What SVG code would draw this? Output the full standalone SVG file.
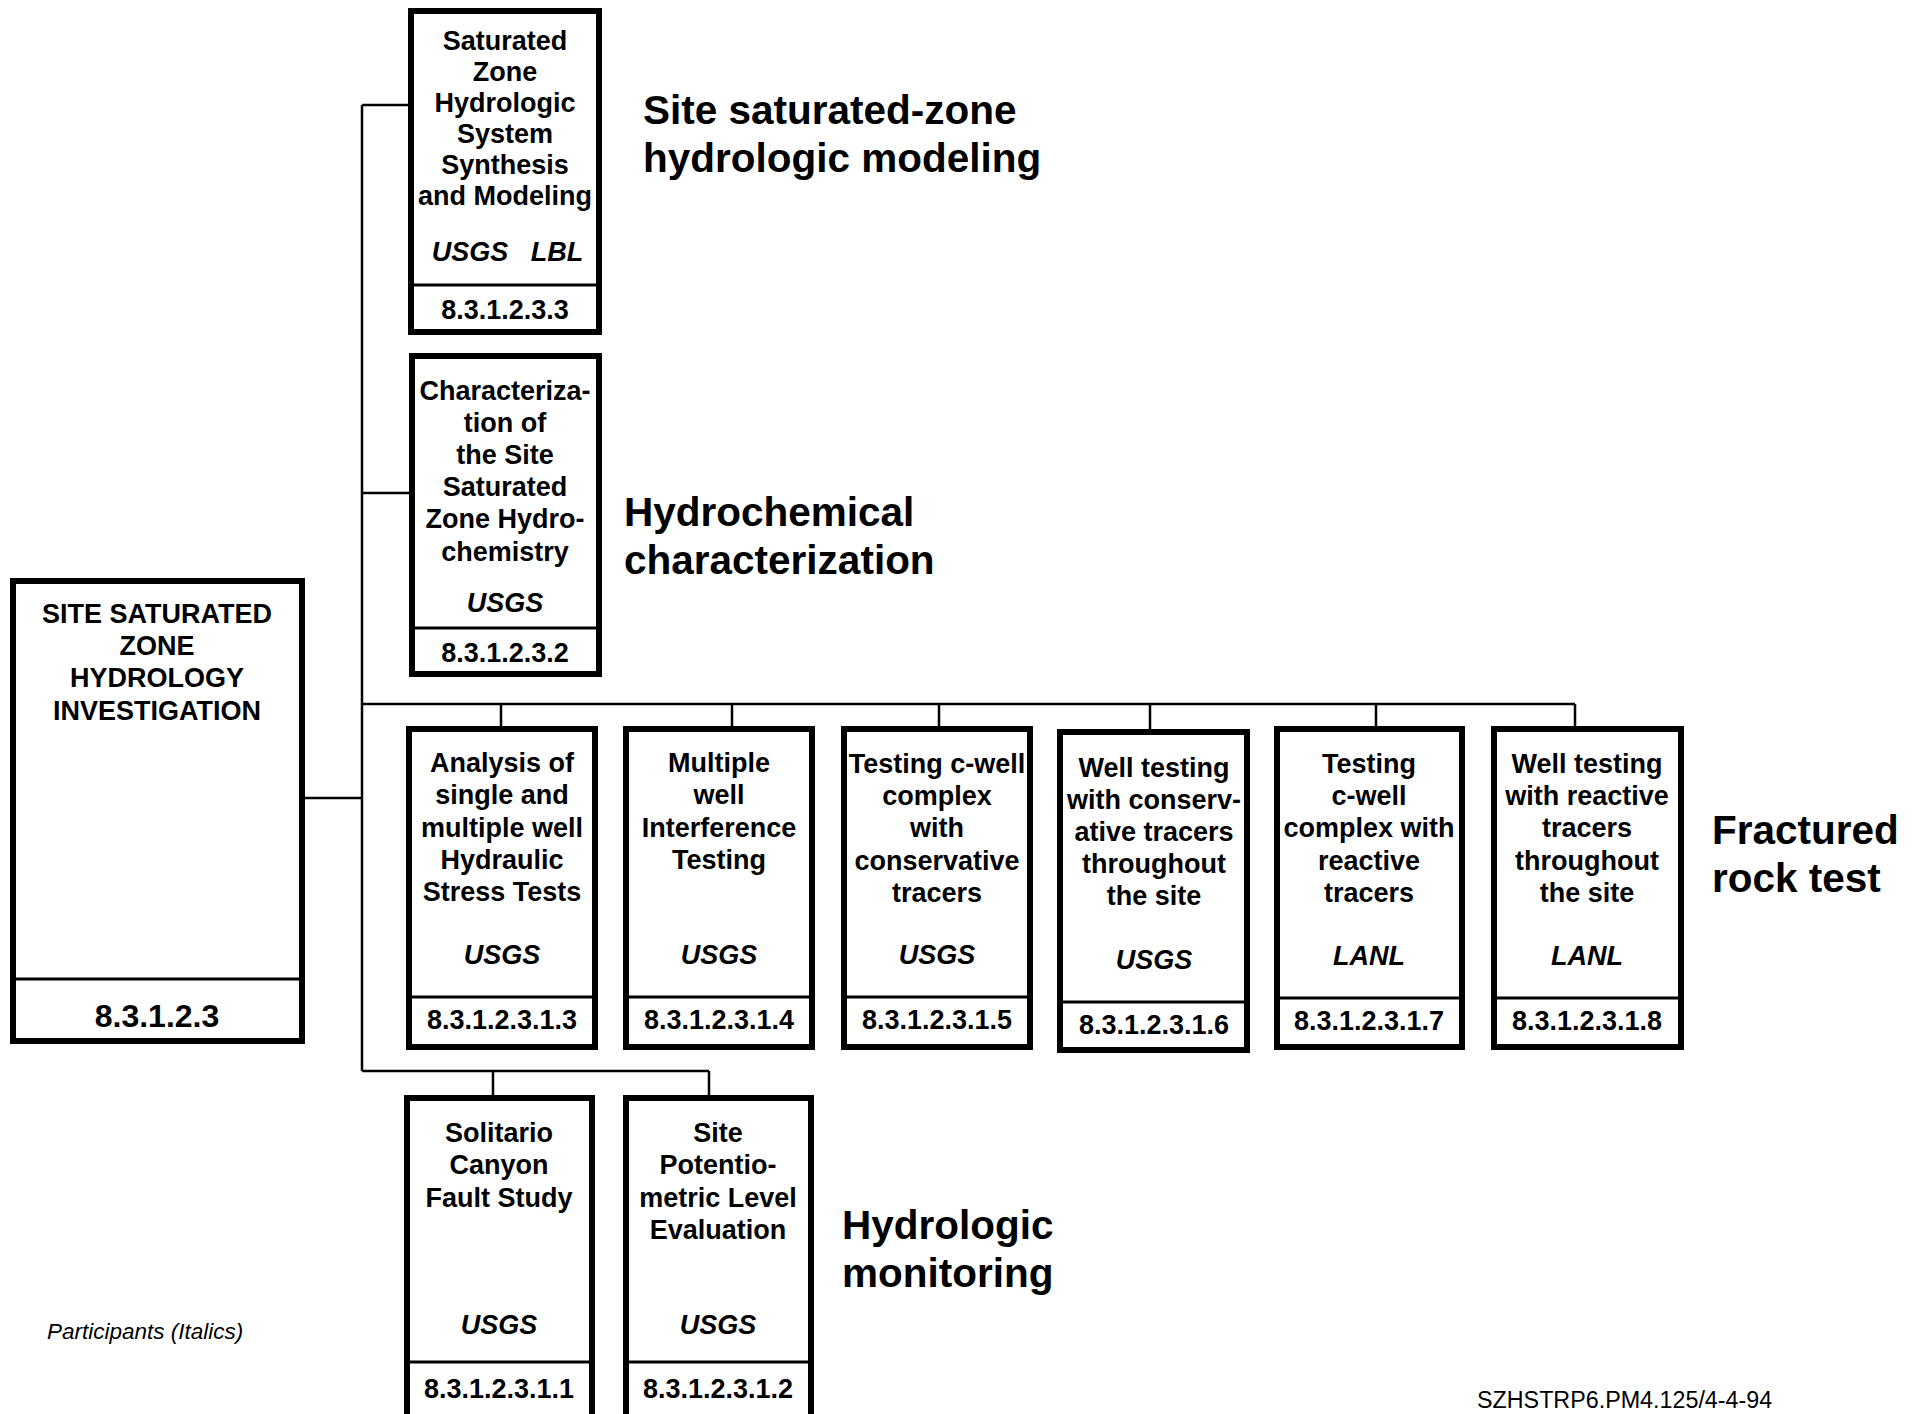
<svg xmlns="http://www.w3.org/2000/svg" width="1919" height="1414" viewBox="0 0 1919 1414">
<style>
.box{fill:#fff;stroke:#000;stroke-width:6}
.dv{stroke:#000;stroke-width:3;fill:none}
.cn{stroke:#000;stroke-width:2.5;fill:none}
text{font-family:"Liberation Sans",Arial,Helvetica,sans-serif;fill:#000}
.t{font-weight:bold;font-size:27px;text-anchor:middle}
.p{font-weight:bold;font-style:italic;font-size:27px;text-anchor:middle}
.n{font-weight:bold;font-size:27px;text-anchor:middle}
.lbl{font-weight:bold;font-size:40.5px}
.sm{font-size:22.5px}
</style>
<rect x="0" y="0" width="1919" height="1414" fill="#fff"/>
<g id="connectors">
<path class="cn" d="M362 105V1071M362 105H409M362 493H409M305 798H362"/>
<path class="cn" d="M362 704H1575M501 704V726M732 704V726M939 704V726M1150 704V729M1376 704V726M1575 704V726"/>
<path class="cn" d="M362 1071H709M493 1071V1095M709 1071V1095"/>
</g>
<g id="n-root">
<rect class="box" x="13" y="581" width="289" height="460"/>
<line class="dv" x1="16" y1="979" x2="299" y2="979"/>
<text class="t" x="157" y="623">SITE SATURATED</text>
<text class="t" x="157" y="655">ZONE</text>
<text class="t" x="157" y="687">HYDROLOGY</text>
<text class="t" x="157" y="720">INVESTIGATION</text>
<text class="n" x="157" y="1027" style="font-size:32px">8.3.1.2.3</text>
</g>
<g id="n-8.3.1.2.3.3">
<rect class="box" x="411" y="11" width="188" height="321"/>
<line class="dv" x1="414" y1="285" x2="596" y2="285"/>
<text class="t" x="505" y="50">Saturated</text>
<text class="t" x="505" y="81">Zone</text>
<text class="t" x="505" y="112">Hydrologic</text>
<text class="t" x="505" y="143">System</text>
<text class="t" x="505" y="174">Synthesis</text>
<text class="t" x="505" y="205">and Modeling</text>
<text class="p" x="470" y="261">USGS</text>
<text class="p" x="557" y="261">LBL</text>
<text class="n" x="505" y="319">8.3.1.2.3.3</text>
</g>
<g id="n-8.3.1.2.3.2">
<rect class="box" x="412" y="356" width="187" height="318"/>
<line class="dv" x1="415" y1="628" x2="596" y2="628"/>
<text class="t" x="505" y="400">Characteriza-</text>
<text class="t" x="505" y="432">tion of</text>
<text class="t" x="505" y="464">the Site</text>
<text class="t" x="505" y="496">Saturated</text>
<text class="t" x="505" y="528">Zone Hydro-</text>
<text class="t" x="505" y="561">chemistry</text>
<text class="p" x="505" y="612">USGS</text>
<text class="n" x="505" y="662">8.3.1.2.3.2</text>
</g>
<g id="n-8.3.1.2.3.1.3">
<rect class="box" x="409" y="729" width="186" height="318"/>
<line class="dv" x1="412" y1="997" x2="592" y2="997"/>
<text class="t" x="502" y="772">Analysis of</text>
<text class="t" x="502" y="804">single and</text>
<text class="t" x="502" y="837">multiple well</text>
<text class="t" x="502" y="869">Hydraulic</text>
<text class="t" x="502" y="901">Stress Tests</text>
<text class="p" x="502" y="964">USGS</text>
<text class="n" x="502" y="1029">8.3.1.2.3.1.3</text>
</g>
<g id="n-8.3.1.2.3.1.4">
<rect class="box" x="626" y="729" width="186" height="318"/>
<line class="dv" x1="629" y1="997" x2="809" y2="997"/>
<text class="t" x="719" y="772">Multiple</text>
<text class="t" x="719" y="804">well</text>
<text class="t" x="719" y="837">Interference</text>
<text class="t" x="719" y="869">Testing</text>
<text class="p" x="719" y="964">USGS</text>
<text class="n" x="719" y="1029">8.3.1.2.3.1.4</text>
</g>
<g id="n-8.3.1.2.3.1.5">
<rect class="box" x="844" y="729" width="186" height="318"/>
<line class="dv" x1="847" y1="997" x2="1027" y2="997"/>
<text class="t" x="937" y="773">Testing c-well</text>
<text class="t" x="937" y="805">complex</text>
<text class="t" x="937" y="837">with</text>
<text class="t" x="937" y="870">conservative</text>
<text class="t" x="937" y="902">tracers</text>
<text class="p" x="937" y="964">USGS</text>
<text class="n" x="937" y="1029">8.3.1.2.3.1.5</text>
</g>
<g id="n-8.3.1.2.3.1.6">
<rect class="box" x="1060" y="732" width="187" height="318"/>
<line class="dv" x1="1063" y1="1002" x2="1244" y2="1002"/>
<text class="t" x="1154" y="777">Well testing</text>
<text class="t" x="1154" y="809">with conserv-</text>
<text class="t" x="1154" y="841">ative tracers</text>
<text class="t" x="1154" y="873">throughout</text>
<text class="t" x="1154" y="905">the site</text>
<text class="p" x="1154" y="969">USGS</text>
<text class="n" x="1154" y="1034">8.3.1.2.3.1.6</text>
</g>
<g id="n-8.3.1.2.3.1.7">
<rect class="box" x="1277" y="729" width="185" height="318"/>
<line class="dv" x1="1280" y1="998" x2="1459" y2="998"/>
<text class="t" x="1369" y="773">Testing</text>
<text class="t" x="1369" y="805">c-well</text>
<text class="t" x="1369" y="837">complex with</text>
<text class="t" x="1369" y="870">reactive</text>
<text class="t" x="1369" y="902">tracers</text>
<text class="p" x="1369" y="965">LANL</text>
<text class="n" x="1369" y="1030">8.3.1.2.3.1.7</text>
</g>
<g id="n-8.3.1.2.3.1.8">
<rect class="box" x="1494" y="729" width="187" height="318"/>
<line class="dv" x1="1497" y1="998" x2="1678" y2="998"/>
<text class="t" x="1587" y="773">Well testing</text>
<text class="t" x="1587" y="805">with reactive</text>
<text class="t" x="1587" y="837">tracers</text>
<text class="t" x="1587" y="870">throughout</text>
<text class="t" x="1587" y="902">the site</text>
<text class="p" x="1587" y="965">LANL</text>
<text class="n" x="1587" y="1030">8.3.1.2.3.1.8</text>
</g>
<g id="n-8.3.1.2.3.1.1">
<rect class="box" x="407" y="1098" width="185" height="400"/>
<line class="dv" x1="410" y1="1362" x2="589" y2="1362"/>
<text class="t" x="499" y="1142">Solitario</text>
<text class="t" x="499" y="1174">Canyon</text>
<text class="t" x="499" y="1207">Fault Study</text>
<text class="p" x="499" y="1334">USGS</text>
<text class="n" x="499" y="1398">8.3.1.2.3.1.1</text>
</g>
<g id="n-8.3.1.2.3.1.2">
<rect class="box" x="626" y="1098" width="185" height="400"/>
<line class="dv" x1="629" y1="1362" x2="808" y2="1362"/>
<text class="t" x="718" y="1142">Site</text>
<text class="t" x="718" y="1174">Potentio-</text>
<text class="t" x="718" y="1207">metric Level</text>
<text class="t" x="718" y="1239">Evaluation</text>
<text class="p" x="718" y="1334">USGS</text>
<text class="n" x="718" y="1398">8.3.1.2.3.1.2</text>
</g>
<g id="labels">
<text class="lbl" x="643" y="124">Site saturated-zone</text>
<text class="lbl" x="643" y="172">hydrologic modeling</text>
<text class="lbl" x="624" y="526">Hydrochemical</text>
<text class="lbl" x="624" y="574">characterization</text>
<text class="lbl" x="1712" y="844">Fractured</text>
<text class="lbl" x="1712" y="892">rock test</text>
<text class="lbl" x="842" y="1239">Hydrologic</text>
<text class="lbl" x="842" y="1287">monitoring</text>
<text class="sm" x="47" y="1339" style="font-style:italic">Participants (Italics)</text>
<text class="sm" x="1477" y="1408" style="font-size:23.3px">SZHSTRP6.PM4.125/4-4-94</text>
</g>
</svg>
